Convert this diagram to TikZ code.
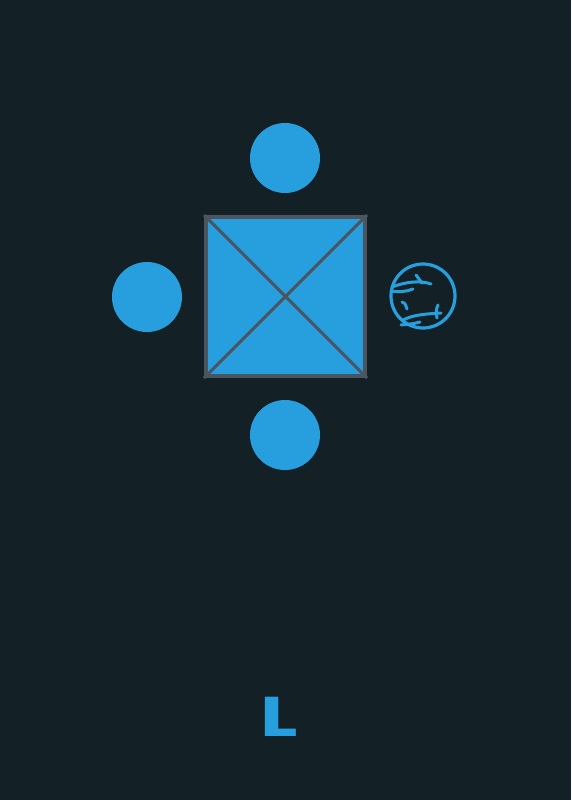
\documentclass[tikz,border=0pt]{standalone}
\usepackage{fontspec}
\usepackage{tikz}
\usetikzlibrary{positioning}
\newfontfamily\labelfont{Poppins}
\definecolor{bgdark}{HTML}{132127}
\definecolor{pinblue}{HTML}{279FDE}
\definecolor{framegray}{HTML}{4A5560}

\begin{document}
\begin{tikzpicture}[
		x=1pt, y=-1pt,
		table/.style={draw=framegray, line width=4pt, fill=pinblue, minimum size=159pt, inner sep=0pt},
		seat/.style={circle, fill=pinblue, minimum size=70pt, inner sep=0pt},
		emptyseat/.style={circle, draw=pinblue, line width=3.2pt, minimum size=64pt, inner sep=0pt},
		scribble/.style={draw=pinblue, line width=3pt, line cap=round, line join=round}
		]
		% Background
		\fill [bgdark] (0,0) rectangle (571,800);
		\useasboundingbox (0,0) rectangle (571,800);
		
		% Table with cross
		\node [table] (sq) at (285.5,296.5) {};
		\draw [framegray, line width=3pt] (sq.north west) -- (sq.south east);
		\draw [framegray, line width=3pt] (sq.north east) -- (sq.south west);
		
		% Seats
		\node [seat] (top) at (285,158) {};
		\node [seat] (bottom) at (285,435) {};
		\node [seat] (left) at (147,297) {};
		\node [emptyseat] (right) at (423,296) {};
		
		% Scribbles in the empty seat
		\draw [scribble] (392,287) .. controls (405,282) and (420,280) .. (431,284);
		\draw [scribble] (391,291) .. controls (398,292) and (406,292) .. (413,289);
		\draw [scribble] (416,275) -- (422,283);
		\draw [scribble] (402,302) .. controls (405,303) .. (407,309);
		\draw [scribble] (403,320) .. controls (415,314) and (428,314) .. (441,313);
		\draw [scribble] (401,325) .. controls (408,324) and (414,324) .. (420,322);
		\draw [scribble] (438,305) .. controls (436,310) .. (437,318);
		
		% Label
		\node [text=pinblue, font=\labelfont\bfseries\fontsize{56}{56}\selectfont, inner sep=0pt, xscale=1.4] (lbl) at (279,717) {L};
		\end{tikzpicture}
\end{document}
